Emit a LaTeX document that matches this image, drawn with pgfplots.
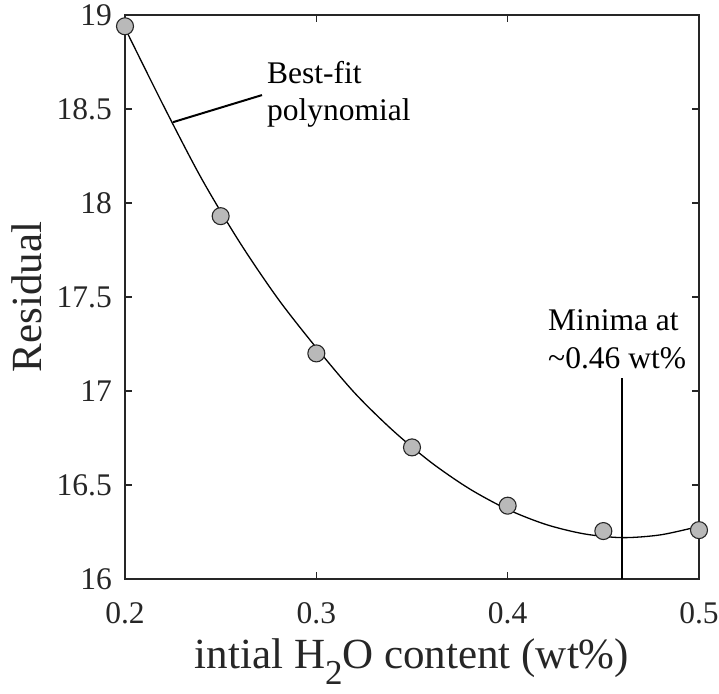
\documentclass[border=0pt]{standalone}
\usepackage{pgfplots}
\pgfplotsset{compat=1.18}
\usepackage{fontspec}
\setmainfont{Liberation Serif}
\definecolor{axgray}{RGB}{38,38,38}
\definecolor{mk}{RGB}{185,185,185}
\begin{document}
\begin{tikzpicture}[x=1pt,y=1pt]
\path[use as bounding box] (0,0) rectangle (719,693);
\begin{axis}[
  at={(125pt,114pt)}, anchor=south west,
  width=574pt, height=564pt, scale only axis,
  xmin=0.2, xmax=0.5, ymin=16, ymax=19,
  xtick={0.2,0.3,0.4,0.5}, ytick={16,16.5,17,17.5,18,18.5,19},
  tick align=inside, tick pos=both,
  major tick length=7pt,
  axis line style={line width=1.2pt, color=axgray},
  every tick/.style={line width=1.2pt, color=axgray},
  /pgf/number format/assume math mode=true,
  /pgf/number format/fixed,
  tick label style={font=\fontsize{31.5}{31.5}\selectfont, color=axgray},
  yticklabel style={inner sep=0pt, anchor=east, xshift=-13pt},
  xticklabel style={inner sep=0pt, anchor=north, yshift=-23pt},
  xlabel={intial H\raisebox{-16pt}{\fontsize{35}{35}\selectfont 2}O content (wt\%)},
  xlabel style={font=\fontsize{43}{43}\selectfont, at={(axis description cs:0.5,0)}, anchor=base, yshift=-89pt, color=axgray, inner sep=0pt},
  ylabel={Residual},
  ylabel style={font=\fontsize{43}{43}\selectfont, at={(axis description cs:-0.1446,0.5)}, anchor=base, color=axgray, inner sep=0pt},
]
\addplot[black, line width=1.3pt, smooth] coordinates {
(0.20,18.93) (0.22,18.52) (0.24,18.13) (0.26,17.79) (0.28,17.49)
(0.30,17.23) (0.32,16.99) (0.34,16.79) (0.36,16.62) (0.38,16.48)
(0.40,16.37) (0.42,16.29) (0.44,16.24) (0.46,16.22) (0.48,16.235) (0.50,16.28)
};
\addplot[only marks, mark=*, mark size=8.5pt, mark options={fill=mk, draw=axgray, line width=1.1pt}] coordinates {
(0.20,18.94) (0.25,17.93) (0.30,17.20) (0.35,16.70) (0.40,16.39) (0.45,16.255) (0.50,16.26)
};
\draw[line width=2pt] (axis cs:0.2251,18.43) -- (axis cs:0.2716,18.574);
\draw[line width=2pt] (axis cs:0.46,16) -- (axis cs:0.46,17.07);
\node[anchor=base west, font=\fontsize{31.5}{31.5}\selectfont, inner sep=0pt] at (axis cs:0.2742,18.638) {Best-fit};
\node[anchor=base west, font=\fontsize{31.5}{31.5}\selectfont, inner sep=0pt] at (axis cs:0.2742,18.441) {polynomial};
\node[anchor=base west, font=\fontsize{31.5}{31.5}\selectfont, inner sep=0pt] at (axis cs:0.4211,17.324) {Minima at};
\node[anchor=base west, font=\fontsize{31.5}{31.5}\selectfont, inner sep=0pt] at (axis cs:0.4211,17.122) {\textasciitilde0.46 wt\%};
\end{axis}
\end{tikzpicture}
\end{document}
